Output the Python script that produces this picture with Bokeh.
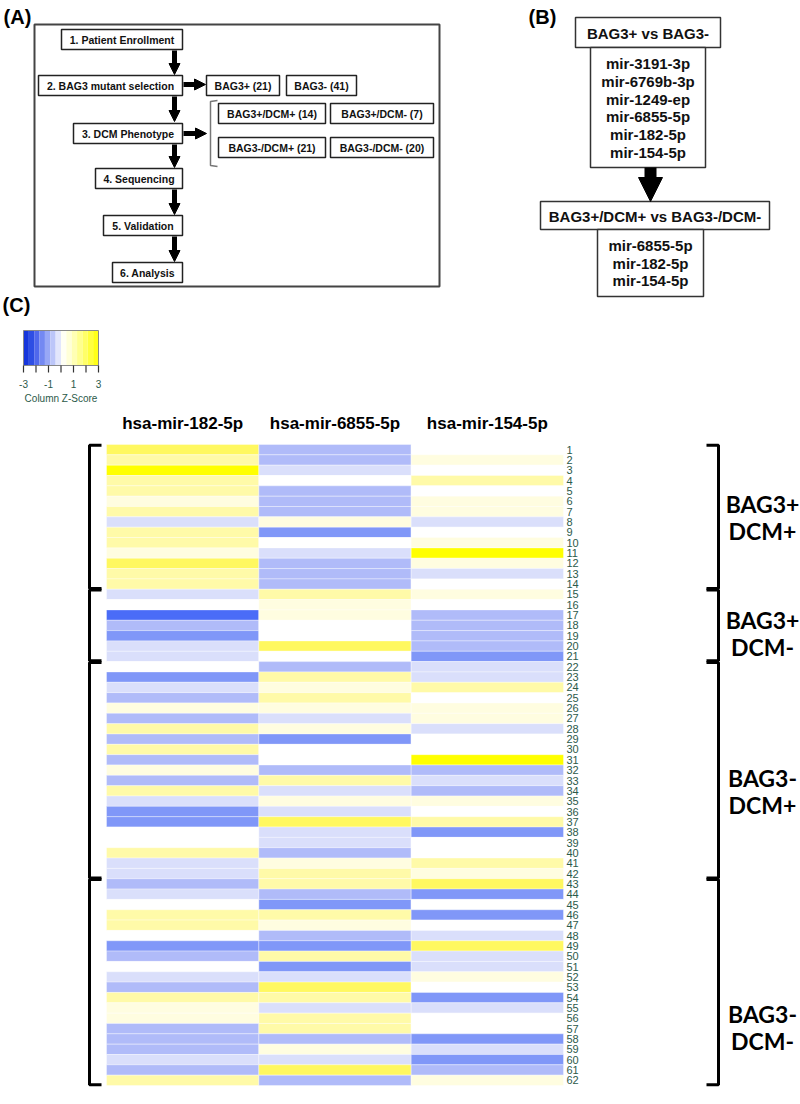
from bokeh.plotting import figure
from bokeh.models import Range1d, Arrow, NormalHead, LinearColorMapper, ColumnDataSource
from bokeh.transform import transform
from bokeh.core.properties import value
from bokeh.embed import file_html
from bokeh.resources import INLINE

# ---------------- data ----------------
mirnas = ["hsa-mir-182-5p", "hsa-mir-6855-5p", "hsa-mir-154-5p"]
patients = list(range(1, 63))
group_top = ["BAG3+", "BAG3+", "BAG3-", "BAG3-"]
group_bottom = ["DCM+", "DCM-", "DCM+", "DCM-"]
group_sizes = [14, 7, 21, 20]

z_mir182 = [2.0, 1.3, 2.6, 1.3, 1.3, 0.7, 1.3, -0.7, 1.3, 1.3,
            0.7, 2.0, 1.3, 1.3, -0.7, 0.0, -2.6, -1.3, -2.0, -0.7,
            -0.7, 0.0, -2.0, -0.7, -1.3, 0.7, -1.3, 1.3, -1.3, 1.3,
            -1.3, 0.7, -1.3, 1.3, -0.7, -2.0, -2.0, 0.0, 0.0, 1.3,
            -0.7, -0.7, -1.3, -0.7, 0.0, 1.3, 1.3, 0.0, -2.0, -1.3,
            0.0, -0.7, -1.3, 1.3, 0.7, 0.7, -1.3, -1.3, -1.3, -0.7,
            -1.3, 1.3]
z_mir6855 = [-1.3, -1.3, -0.7, 0.0, -1.3, -1.3, -1.3, 0.7, -2.0, 0.0,
             -0.7, -1.3, -1.3, -1.3, 1.3, 0.7, 0.7, 0.0, 0.0, 2.0,
             0.0, -1.3, 1.3, 0.7, 1.3, 0.7, -0.7, 0.7, -2.0, 0.0,
             0.0, -1.3, 1.3, -0.7, 0.7, -0.7, 2.0, -0.7, -0.7, -1.3,
             0.7, 1.3, 1.3, -1.3, -2.0, 1.3, 0.7, -1.3, -2.0, 1.3,
             -2.0, -0.7, 2.0, 1.3, -0.7, 1.3, 1.3, -1.3, 0.7, -0.7,
             2.0, -1.3]
z_mir154 = [0.0, 0.7, 0.0, 1.3, 0.0, 0.7, 0.7, -0.7, 0.0, 0.7,
            2.6, 0.7, -0.7, 0.0, 0.7, 0.0, -1.3, -1.3, -1.3, -1.3,
            -2.0, -0.7, -0.7, 1.3, 0.0, 0.7, 0.7, -0.7, 0.0, 0.0,
            2.6, -1.3, -0.7, -1.3, 0.7, 0.0, 1.3, -2.0, 0.0, 0.0,
            1.3, 0.7, 2.0, -2.0, 0.0, -2.0, 0.0, -0.7, 2.0, -0.7,
            -0.7, 0.7, 0.0, -2.0, -0.7, 0.0, 0.0, -2.0, -0.7, -2.0,
            -1.3, 0.7]

key_ticks = [-3, -2, -1, 0, 1, 2, 3]
key_labels = [-3, -1, 1, 3]

steps_a = ["1. Patient Enrollment", "2. BAG3 mutant selection", "3. DCM Phenotype",
           "4. Sequencing", "5. Validation", "6. Analysis"]
bag3_split = ["BAG3+ (21)", "BAG3- (41)"]
dcm_split = ["BAG3+/DCM+ (14)", "BAG3+/DCM- (7)", "BAG3-/DCM+ (21)", "BAG3-/DCM- (20)"]
cmp1_title = "BAG3+ vs BAG3-"
cmp1_list = ["mir-3191-3p", "mir-6769b-3p", "mir-1249-ep", "mir-6855-5p", "mir-182-5p", "mir-154-5p"]
cmp2_title = "BAG3+/DCM+ vs BAG3-/DCM-"
cmp2_list = ["mir-6855-5p", "mir-182-5p", "mir-154-5p"]

# ---------------- layout constants (page pixels) ----------------
W, H = 800, 1104
HX0, HX1, HY0, HY1 = 106, 563, 444, 1085      # heatmap area
KX0, KX1, KY0, KY1 = 23, 98, 330, 365          # colour key area
ncol, nrow = len(mirnas), len(patients)
cw = (HX1 - HX0) / ncol
rh = (HY1 - HY0) / nrow
kw = (KX1 - KX0) / 6.0

ARIAL = value("Liberation Sans")
LATO = value("Lato")
GREEN = "#2c5a4a"

p = figure(width=W, height=H, x_range=Range1d(0, W), y_range=Range1d(H, 0),
           output_backend="svg", toolbar_location=None, min_border=0,
           x_axis_location=None, y_axis_location=None)
p.grid.visible = False
p.outline_line_color = None
p.background_fill_color = "white"

p.extra_x_ranges = {
    "col": Range1d(-HX0 / cw, ncol + (W - HX1) / cw),
    "key": Range1d(-3 - KX0 / kw, 3 + (W - KX1) / kw),
}
p.extra_y_ranges = {
    "row": Range1d(nrow + 0.5 + (H - HY1) / rh, 0.5 - HY0 / rh),
}

# ---------------- panel labels ----------------
p.text(x=[17, 542, 16], y=[16, 16, 304], text=["(A)", "(B)", "(C)"], text_font=ARIAL,
       text_font_style="bold", text_font_size="20px", text_align="center",
       text_baseline="middle", text_color="black")

# ---------------- panel A ----------------
p.quad(left=[34], right=[439], top=[24], bottom=[286], fill_color=None,
       line_color="#444444", line_width=2)

box_l = [61, 38, 73, 95, 103, 112]
box_t = [29, 75, 123, 168, 215, 262]
for i, s in enumerate(steps_a):
    l, t = box_l[i], box_t[i]
    p.quad(left=[l], right=[182], top=[t], bottom=[t + 20], fill_color="white",
           line_color="#222222", line_width=1.5)
    p.text(x=[(l + 182) / 2], y=[t + 10.5], text=[s], text_font=ARIAL, text_font_style="bold",
           text_font_size="10.5px", text_align="center", text_baseline="middle", text_color="#111111")

for (l, r), s in zip([(206, 279), (286, 356)], bag3_split):
    p.quad(left=[l], right=[r], top=[75], bottom=[95], fill_color="white",
           line_color="#222222", line_width=1.5)
    p.text(x=[(l + r) / 2], y=[85.5], text=[s], text_font=ARIAL, text_font_style="bold",
           text_font_size="10.5px", text_align="center", text_baseline="middle", text_color="#111111")

dcm_pos = [(218, 325, 103), (330, 433, 103), (218, 325, 137), (330, 433, 137)]
for (l, r, t), s in zip(dcm_pos, dcm_split):
    p.quad(left=[l], right=[r], top=[t], bottom=[t + 20], fill_color="white",
           line_color="#222222", line_width=1.5)
    p.text(x=[(l + r) / 2], y=[t + 10.5], text=[s], text_font=ARIAL, text_font_style="bold",
           text_font_size="10.5px", text_align="center", text_baseline="middle", text_color="#111111")

p.line(x=[217, 210, 210, 217], y=[100, 101, 165, 166], line_color="#777777", line_width=1.5)

for (x0, y0, x1, y1) in [(174, 50, 174, 74), (174, 96, 174, 121), (174, 144, 174, 167),
                         (174, 189, 174, 214), (174, 236, 174, 261),
                         (183, 84, 205, 84), (183, 133, 206, 133)]:
    p.add_layout(Arrow(end=NormalHead(size=11, fill_color="black", line_color="black", line_width=1),
                       x_start=x0, y_start=y0, x_end=x1, y_end=y1,
                       line_width=5, line_color="black"))

# ---------------- panel B ----------------
p.quad(left=[575], right=[720], top=[17], bottom=[47], fill_color="white",
       line_color="#333333", line_width=1.5)
p.text(x=[647.5], y=[32.5], text=[cmp1_title], text_font=ARIAL, text_font_style="bold",
       text_font_size="15px", text_align="center", text_baseline="middle", text_color="#111111")
p.quad(left=[590], right=[705], top=[47], bottom=[167], fill_color="white",
       line_color="#333333", line_width=1.5)
p.text(x=[647.5] * len(cmp1_list), y=[63 + 17.8 * i for i in range(len(cmp1_list))],
       text=cmp1_list, text_font=ARIAL, text_font_style="bold", text_font_size="15px",
       text_align="center", text_baseline="middle", text_color="#111111")

p.add_layout(Arrow(end=NormalHead(size=24, fill_color="black", line_color="black", line_width=1),
                   x_start=650, y_start=167, x_end=650, y_end=201,
                   line_width=12, line_color="black"))

p.quad(left=[540], right=[769], top=[201], bottom=[229], fill_color="white",
       line_color="#333333", line_width=1.5)
p.text(x=[654.5], y=[215.5], text=[cmp2_title], text_font=ARIAL, text_font_style="bold",
       text_font_size="15px", text_align="center", text_baseline="middle", text_color="#111111")
p.quad(left=[597], right=[703], top=[229], bottom=[296], fill_color="white",
       line_color="#333333", line_width=1.5)
p.text(x=[650] * len(cmp2_list), y=[245 + 17.5 * i for i in range(len(cmp2_list))],
       text=cmp2_list, text_font=ARIAL, text_font_style="bold", text_font_size="15px",
       text_align="center", text_baseline="middle", text_color="#111111")

# ---------------- colour key ----------------
key_colors = ["#1636dc", "#2e4ee4", "#5068ec", "#7489f2", "#98a8f6", "#bcc6f9", "#e2e6fc",
              "#fffff4", "#ffffd8", "#ffffb4", "#ffff8e", "#ffff68", "#ffff40", "#ffff18"]
nk = len(key_colors)
kl = [-3 + i * 6.0 / nk for i in range(nk)]
p.quad(left=kl, right=[v + 6.0 / nk for v in kl], top=[KY0] * nk, bottom=[KY1] * nk,
       fill_color=key_colors, line_color=None, x_range_name="key")
p.quad(left=[-3], right=[3], top=[KY0], bottom=[KY1], fill_color=None,
       line_color="#888888", line_width=1, x_range_name="key")
p.segment(x0=key_ticks, x1=key_ticks, y0=[KY1] * 7, y1=[KY1 + 7] * 7,
          line_color="#333333", line_width=1.2, x_range_name="key")
p.text(x=key_labels, y=[KY1 + 18] * len(key_labels), text=[str(v) for v in key_labels],
       x_range_name="key", text_font=ARIAL, text_font_size="10px", text_align="center",
       text_baseline="middle", text_color=GREEN)
p.text(x=[0], y=[KY1 + 33], text=["Column Z-Score"], x_range_name="key", text_font=ARIAL,
       text_font_size="10px", text_align="center", text_baseline="middle", text_color=GREEN)

# ---------------- heatmap ----------------
xs, ys, zs = [], [], []
for j, col in enumerate([z_mir182, z_mir6855, z_mir154]):
    for i, v in enumerate(col):
        xs.append(j + 0.5)
        ys.append(patients[i])
        zs.append(v)
src = ColumnDataSource(dict(x=xs, y=ys, z=zs))
heat_palette = ["#4a6cf7", "#8097f8", "#b0bbf9", "#dadffb", "#ffffff",
                "#fffde0", "#fffaa8", "#fff860", "#ffff00"]
mapper = LinearColorMapper(palette=heat_palette, low=-3, high=3)
p.rect(x="x", y="y", width=1, height=1, source=src, x_range_name="col", y_range_name="row",
       fill_color=transform("z", mapper), line_color="white", line_width=0.6, line_alpha=0.6)

p.text(x=[j + 0.5 for j in range(ncol)], y=[423] * ncol, text=mirnas, x_range_name="col",
       text_font=ARIAL, text_font_style="bold", text_font_size="17px", text_align="center",
       text_baseline="middle", text_color="black")

p.text(x=[ncol] * nrow, y=patients, text=[str(v) for v in patients], x_offset=3,
       x_range_name="col", y_range_name="row", text_font=ARIAL, text_font_size="11px",
       text_align="left", text_baseline="middle", text_color=GREEN)

# brackets and group labels
starts = []
acc = 0
for n in group_sizes:
    starts.append(acc + 1)
    acc += n
bx_l, by_l, bx_r, by_r = [], [], [], []
for s, n in zip(starts, group_sizes):
    top = s - 0.5 + 0.08
    bot = s + n - 0.5 - 0.08
    bx_l.append([101, 89, 89, 101]); by_l.append([top, top, bot, bot])
    bx_r.append([706, 718, 718, 706]); by_r.append([top, top, bot, bot])
p.multi_line(xs=bx_l, ys=by_l, y_range_name="row", line_color="black", line_width=3)
p.multi_line(xs=bx_r, ys=by_r, y_range_name="row", line_color="black", line_width=3)

label_shift = [0, 8, 21, 45]
cy = [HY0 + (s - 1 + n / 2.0) * rh + sh for s, n, sh in zip(starts, group_sizes, label_shift)]
p.text(x=[762] * 4, y=[c - 13 for c in cy], text=group_top, text_font=LATO, text_font_style="bold",
       text_font_size="23px", text_align="center", text_baseline="middle", text_color="black")
p.text(x=[762] * 4, y=[c + 14 for c in cy], text=group_bottom, text_font=LATO, text_font_style="bold",
       text_font_size="23px", text_align="center", text_baseline="middle", text_color="black")

open("out.html", "w").write(file_html(p, INLINE))
